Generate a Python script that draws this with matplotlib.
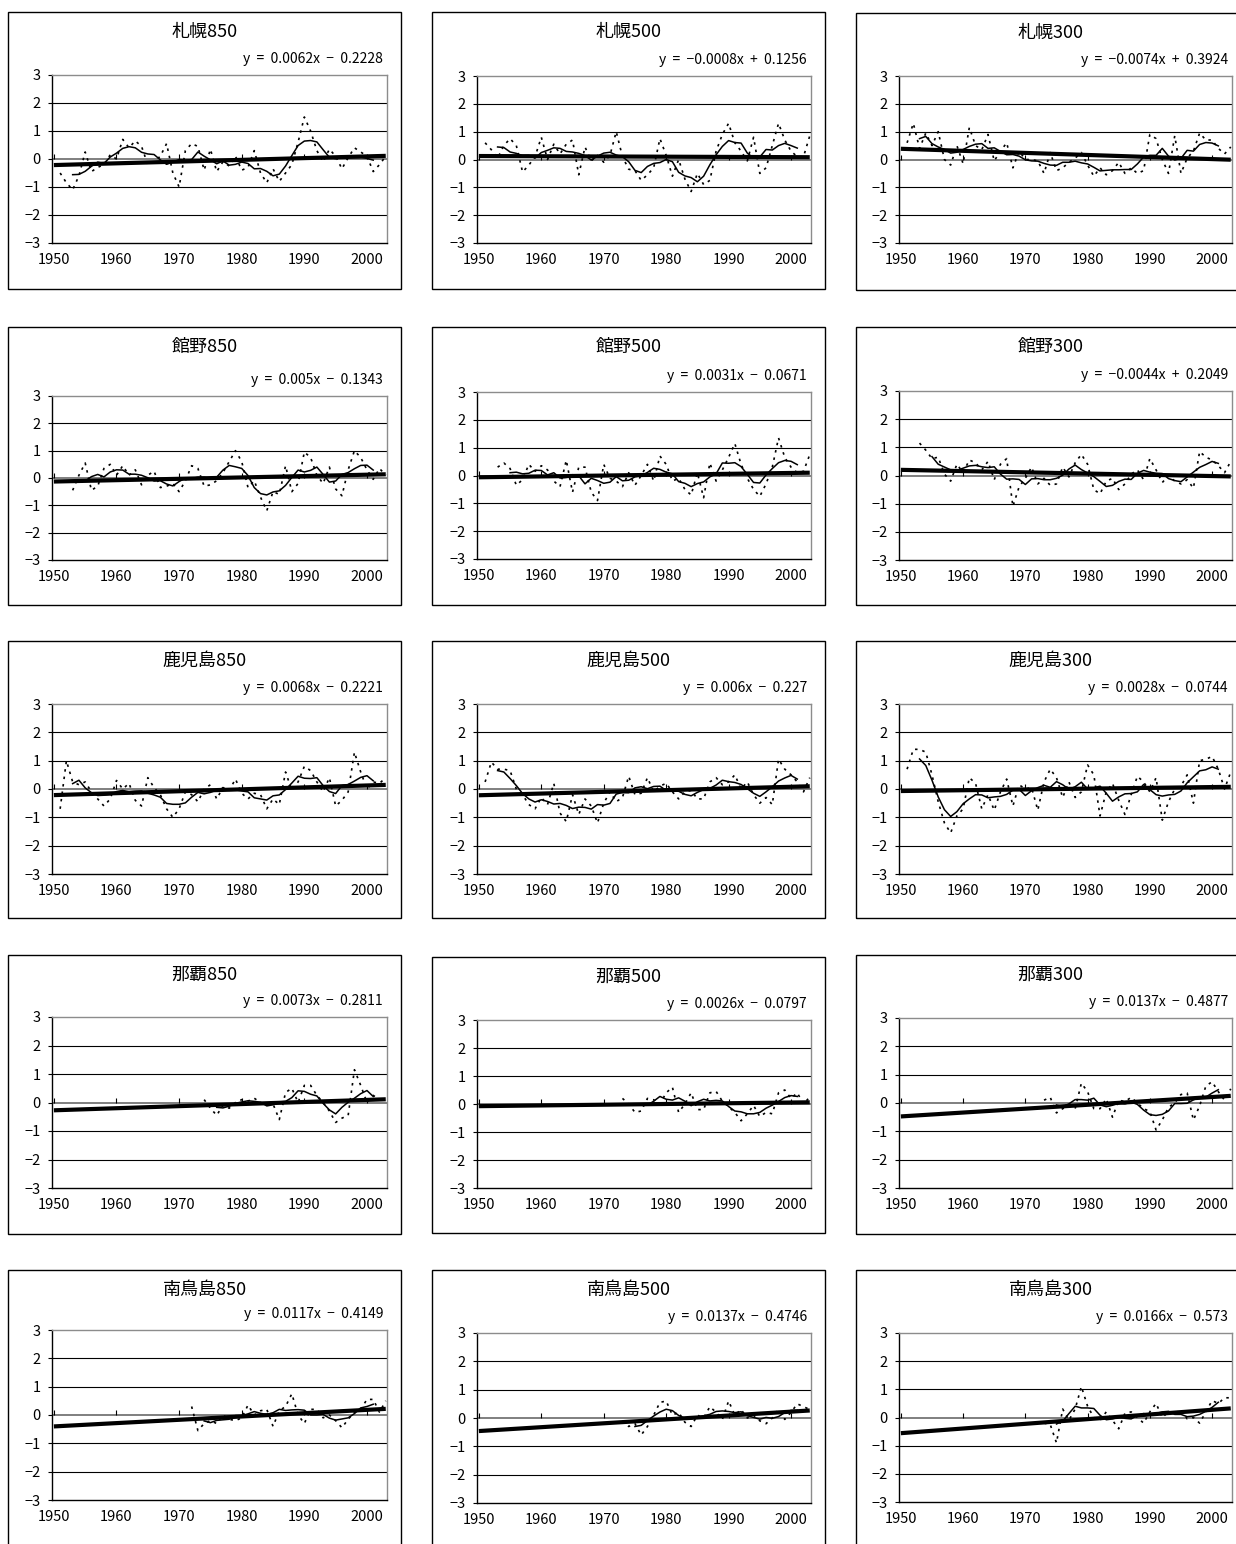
import numpy as np
import pandas as pd
import matplotlib
matplotlib.use("Agg")
import matplotlib.pyplot as plt
from matplotlib.patches import Rectangle

plt.rcParams['font.family'] = ['Noto Sans CJK JP', 'DejaVu Sans']

# ---------------------------------------------------------------- data
stations = ['札幌', '館野', '鹿児島', '那覇', '南鳥島']
levels = ['850', '500', '300']

# annual anomalies, one list per panel, first year in start_years
sapporo850 = [-0.5, -0.85, -1.1, -0.6, 0.25, -0.45, -0.3, -0.2, 0.15, 0.0,
              0.7, 0.4, 0.65, 0.45, -0.2, -0.1, 0.1, 0.55, -0.5, -1.0,
              0.3, 0.55, 0.45, -0.4, 0.35, -0.45, -0.1, -0.25, 0.1, -0.4,
              -0.3, 0.3, -0.5, -0.85, -0.35, -0.8, -0.5, -0.2, 0.6, 1.5,
              1.0, 0.3, -0.1, 0.35, 0.1, -0.35, 0.05, 0.4, 0.25, 0.1,
              -0.45, -0.2, 0.1]
sapporo500 = [0.6, 0.35, 0.05, 0.5, 0.75, 0.5, -0.45, -0.2, 0.1, 0.8,
              0.0, 0.55, 0.2, 0.55, 0.7, -0.55, 0.45, -0.05, 0.15, -0.1,
              0.15, 1.0, 0.1, -0.35, -0.4, -0.75, -0.55, -0.3, 0.75, 0.15,
              -0.6, 0.0, -0.7, -1.15, -0.5, -0.9, -0.75, 0.3, 0.9, 1.3,
              0.6, 0.3, -0.05, 0.8, -0.5, -0.3, 0.5, 1.3, 0.7, 0.3,
              0.1, 0.1, 0.85]
sapporo300 = [0.6, 1.3, 0.4, 0.95, 0.5, 1.0, 0.0, -0.2, 0.5, -0.15,
              1.15, 0.5, 0.35, 0.9, -0.05, 0.3, 0.6, -0.3, 0.3, 0.0,
              0.0, -0.05, -0.5, 0.25, -0.4, -0.3, -0.1, 0.05, 0.25, -0.2,
              -0.6, -0.3, -0.55, -0.4, -0.1, -0.5, -0.3, -0.5, -0.4, 0.9,
              0.75, 0.0, -0.5, 0.85, -0.5, 0.05, 0.3, 0.95, 0.7, 0.7,
              0.4, 0.2, 0.45]
tateno850 = [-0.45, 0.1, 0.55, -0.45, -0.3, 0.35, 0.5, 0.1,
             0.45, 0.1, 0.3, -0.25, 0.1, 0.25, -0.35, -0.3, -0.2, -0.5,
             -0.1, 0.45, 0.35, -0.3, -0.25, -0.1, 0.2, 0.6, 1.0, 0.6,
             -0.35, -0.1, -0.7, -1.2, -0.5, -0.6, 0.45, -0.5, -0.2, 0.95,
             0.75, 0.1, -0.2, 0.4, -0.4, -0.65, 0.3, 1.0, 0.75, 0.3,
             -0.05, 0.35, 0.1]
tateno500 = [0.3, 0.45, 0.25, -0.35, -0.15, 0.4, 0.15, 0.35,
             0.2, -0.2, -0.4, 0.55, -0.6, 0.3, 0.3, -0.6, -0.9, 0.4,
             -0.1, -0.2, -0.4, 0.1, -0.35, 0.0, 0.4, -0.2, 0.7, 0.4,
             -0.2, -0.1, -0.5, -0.7, 0.1, -0.8, 0.45, -0.2, 0.2, 0.65,
             1.15, 0.4, -0.1, -0.5, -0.75, -0.3, 0.3, 1.35, 0.65, 0.3,
             0.1, 0.15, 0.75]
tateno300 = [1.15, 0.9, 0.6, 0.65, 0.05, -0.2, 0.4, 0.1,
             0.55, 0.45, 0.2, 0.5, -0.15, 0.4, 0.6, -1.1, -0.4, -0.1,
             0.3, -0.3, -0.1, -0.35, -0.3, 0.3, -0.05, 0.45, 0.75, 0.4,
             -0.5, -0.65, -0.2, -0.1, -0.5, -0.3, 0.05, 0.2, -0.15, 0.6,
             0.2, -0.25, 0.0, -0.2, -0.3, -0.15, -0.45, 0.85, 0.65, 0.55,
             0.35, 0.1, 0.5]
kagoshima850 = [-0.7, 1.0, 0.25, 0.15, 0.25, -0.1, -0.35, -0.6, -0.35, 0.3,
                0.0, 0.2, -0.4, -0.6, 0.4, 0.05, -0.2, -0.7, -1.0, -0.7,
                -0.1, -0.2, -0.45, 0.0, 0.15, -0.35, 0.05, -0.05, 0.35, -0.15,
                -0.35, -0.15, -0.2, -0.7, -0.35, -0.55, 0.6, -0.05, 0.25, 0.8,
                0.65, 0.25, -0.1, 0.4, -0.6, -0.4, -0.1, 1.3, 0.6, 0.0,
                0.25, 0.2, 0.4]
kagoshima500 = [0.25, 0.95, 0.7, 0.7, 0.65, 0.0, -0.2, -0.55, -0.7, -0.3,
                -0.55, 0.2, -0.85, -1.15, -0.2, -0.9, -0.35, -0.6, -1.2, -0.5,
                -0.1, -0.45, -0.3, 0.45, -0.2, -0.15, 0.4, -0.1, 0.1, 0.2,
                -0.1, -0.35, -0.1, -0.05, -0.35, -0.35, 0.25, 0.4, 0.15, 0.25,
                0.5, 0.0, 0.25, -0.2, -0.5, -0.3, -0.55, 1.05, 0.7, 0.5,
                0.25, -0.1, 0.4]
kagoshima300 = [0.7, 1.4, 1.4, 1.3, 0.5, -0.45, -1.2, -1.55, -0.95, -0.7,
                0.4, 0.2, -0.7, -0.2, -0.75, -0.1, 0.35, -0.6, 0.15, 0.0,
                0.05, -0.75, 0.25, 0.7, 0.4, -0.3, 0.25, -0.3, -0.1, 0.85,
                0.5, -0.95, -0.1, 0.2, -0.4, -0.9, -0.2, 0.45, 0.25, -0.1,
                0.4, -1.1, -0.45, 0.0, 0.1, 0.5, -0.5, 1.0, 1.05, 1.15,
                0.7, 0.0, 0.6]
naha850 = [0.1, -0.2, -0.45, -0.1, -0.2, 0.0, 0.1,
           0.05, 0.15, 0.0, -0.1, -0.05, -0.6, 0.35, 0.5, 0.0, 0.6,
           0.6, 0.25, 0.0, -0.3, -0.7, -0.55, -0.45, 1.15, 0.6, 0.0,
           0.25, 0.1, 0.1]
naha500 = [0.2, 0.0, -0.3, -0.25, 0.2, 0.15, 0.0, 0.4,
           0.6, -0.3, 0.0, 0.4, -0.2, -0.2, 0.4, 0.45, 0.1, -0.1,
           -0.3, -0.6, -0.35, -0.05, -0.45, -0.3, -0.35, 0.4, 0.5, 0.2,
           0.4, 0.0, 0.25]
naha300 = [0.1, 0.2, -0.35, -0.2, -0.1, -0.2, 0.7, 0.4,
           -0.2, -0.2, 0.15, -0.5, 0.1, 0.05, 0.2, 0.0, -0.2, -0.3,
           -0.95, -0.6, -0.15, 0.0, 0.3, 0.35, -0.6, -0.1, 0.6, 0.75,
           0.4, 0.1, 0.5]
minamitori850 = [0.3, -0.55, -0.3, -0.2, -0.3, 0.0, -0.15, -0.2, -0.1,
                 0.35, 0.0, 0.15, 0.2, -0.4, 0.15, 0.3, 0.75, 0.0, -0.3,
                 0.2, 0.2, -0.1, 0.0, -0.2, -0.45, -0.15, 0.1, 0.2, 0.55,
                 0.55, 0.1, 0.5]
minamitori500 = [-0.1, -0.3, -0.2, -0.6, -0.3, 0.1, 0.55, 0.6,
                 0.1, 0.2, -0.15, -0.3, 0.1, 0.0, 0.4, 0.2, -0.05, 0.6,
                 0.1, 0.3, 0.0, 0.1, -0.1, -0.2, 0.0, 0.3, -0.05, 0.2,
                 0.5, 0.4, 0.3]
minamitori300 = [-0.2, -0.25, -0.9, 0.3, -0.1, 0.3, 1.1, 0.4,
                 0.0, -0.1, 0.2, -0.1, -0.4, 0.15, 0.2, 0.0, -0.2, 0.2,
                 0.5, 0.0, 0.2, 0.1, 0.3, -0.05, 0.0, -0.2, 0.2, 0.6,
                 0.5, 0.7, 0.7]

series = [sapporo850, sapporo500, sapporo300,
          tateno850, tateno500, tateno300,
          kagoshima850, kagoshima500, kagoshima300,
          naha850, naha500, naha300,
          minamitori850, minamitori500, minamitori300]
start_years = [1951, 1951, 1951,
               1953, 1953, 1953,
               1951, 1951, 1951,
               1974, 1973, 1973,
               1972, 1973, 1973]

# linear trend y = a*x + b, x = 1 for 1950
slopes = [0.0062, -0.0008, -0.0074,
          0.005, 0.0031, -0.0044,
          0.0068, 0.006, 0.0028,
          0.0073, 0.0026, 0.0137,
          0.0117, 0.0137, 0.0166]
intercepts = [-0.2228, 0.1256, 0.3924,
              -0.1343, -0.0671, 0.2049,
              -0.2221, -0.227, -0.0744,
              -0.2811, -0.0797, -0.4877,
              -0.4149, -0.4746, -0.573]

x_ticks = [1950, 1960, 1970, 1980, 1990, 2000]
y_ticks = [-3, -2, -1, 0, 1, 2, 3]

# ---------------------------------------------------------------- layout (pixels)
W, H = 1236, 1544
frame_l = [8, 432, 856]
frame_r = [401, 825, 1245]
frame_t = [[12, 12, 13], [327, 327, 327], [641, 641, 641], [955, 957, 955], [1270, 1270, 1270]]
frame_b = [[289, 289, 290], [605, 605, 605], [918, 918, 918], [1234, 1233, 1234], [1570, 1570, 1570]]
plot_l = [52, 477, 899]
plot_r = [387, 811, 1232]
plot_t = [[75, 76, 76], [396, 392, 391], [704, 704, 704], [1017, 1020, 1018], [1330, 1333, 1333]]
plot_b = [[243, 243, 243], [560, 559, 560], [874, 874, 874], [1188, 1188, 1188], [1500, 1503, 1502]]


def fx(p):
    return p / W


def fy(p):
    return 1 - p / H


def fmt_num(v):
    s = f"{abs(v):g}"
    return ("\u2212" + s) if v < 0 else s


fig = plt.figure(figsize=(W / 100, H / 100), dpi=100)
fig.patch.set_facecolor('white')

for i, name in enumerate(stations):
    for j, lev in enumerate(levels):
        k = i * 3 + j
        # panel frame
        fig.add_artist(Rectangle((fx(frame_l[j]), fy(frame_b[i][j])),
                                 (frame_r[j] - frame_l[j]) / W,
                                 (frame_b[i][j] - frame_t[i][j]) / H,
                                 transform=fig.transFigure, fill=False,
                                 ec='black', lw=1.0))
        fig.text(fx((frame_l[j] + frame_r[j]) / 2), fy(frame_t[i][j] + 20),
                 name + lev, ha='center', va='center', fontsize=13)

        ax = fig.add_axes([fx(plot_l[j]), fy(plot_b[i][j]),
                           (plot_r[j] - plot_l[j]) / W,
                           (plot_b[i][j] - plot_t[i][j]) / H])

        vals = np.array(series[k], dtype=float)
        yrs = np.arange(start_years[k], start_years[k] + len(vals))
        mean5 = pd.Series(vals).rolling(5, center=True).mean().to_numpy()

        # grid and zero axis
        for g in [-2, -1, 1, 2]:
            ax.axhline(g, color='black', lw=0.8, zorder=1)
        ax.axhline(0, color='#7f7f7f', lw=1.4, zorder=1)
        ax.vlines(x_ticks, 0, 0.17, color='black', lw=0.8, zorder=1)

        ax.plot(yrs, vals, color='black', lw=1.2, ls=(0, (1.5, 3.0)), zorder=3)
        ax.plot(yrs, mean5, color='black', lw=1.1, zorder=4)

        trend_yrs = np.arange(1950, 2004)
        trend = slopes[k] * (trend_yrs - 1949) + intercepts[k]
        ax.plot(trend_yrs, trend, color='black', lw=3.0, zorder=5,
                solid_capstyle='butt')

        ax.set_xlim(1949.7, 2003.2)
        ax.set_ylim(-3, 3)
        ax.set_xticks(x_ticks)
        ax.set_yticks(y_ticks)
        ax.set_yticklabels([fmt_num(v) for v in y_ticks])
        ax.tick_params(axis='x', length=0, pad=7, labelsize=10.5)
        ax.tick_params(axis='y', length=3, width=0.8, pad=5, labelsize=10.5)
        for s in ['top', 'right']:
            ax.spines[s].set_color('#8c8c8c')
            ax.spines[s].set_linewidth(1.0)
        for s in ['left', 'bottom']:
            ax.spines[s].set_color('black')
            ax.spines[s].set_linewidth(1.0)

        sign = '+' if intercepts[k] >= 0 else '\u2212'
        eq = f"y  =  {fmt_num(slopes[k])}x  {sign}  {abs(intercepts[k]):g}"
        fig.text(fx(plot_r[j] - 4), fy(plot_t[i][j] - 16), eq,
                 ha='right', va='center', fontsize=10)

fig.savefig('out.png', dpi=100, facecolor='white')
